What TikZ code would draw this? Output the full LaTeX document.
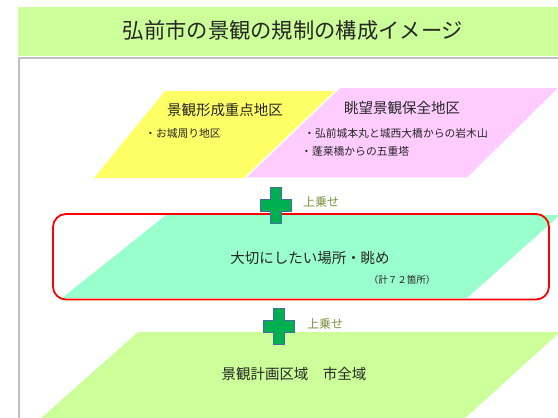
\documentclass[tikz,border=0pt]{standalone}
\usepackage{fontspec}
\setmainfont{Noto Sans CJK JP}
\definecolor{titlegreen}{HTML}{CCFF99}
\definecolor{yellowarea}{HTML}{FFFF66}
\definecolor{pinkarea}{HTML}{FFCCFF}
\definecolor{mintarea}{HTML}{99FFCC}
\definecolor{limearea}{HTML}{CCFF99}
\definecolor{panelgray}{HTML}{C0C0C0}
\definecolor{plusgreen}{HTML}{00B050}
\definecolor{plusedge}{HTML}{41719C}
\definecolor{addtext}{HTML}{77933C}
\definecolor{redframe}{HTML}{FF0000}
\tikzset{
  fs/.style={font=\fontsize{#1}{#1}\selectfont, inner sep=0pt},
  lbl/.style={fs=14.5, text=black!85},
  small/.style={fs=10.8, text=black!85, anchor=west},
  addlbl/.style={fs=12, text=addtext, anchor=west},
  plusshape/.style={fill=plusgreen, draw=plusedge, line width=0.8pt},
}
\newcommand{\plussign}[2]{%
  \filldraw[plusshape] (#1-5.5,#2-18) -- (#1+5.5,#2-18) -- (#1+5.5,#2-6) -- (#1+15.5,#2-6)
    -- (#1+15.5,#2+6) -- (#1+5.5,#2+6) -- (#1+5.5,#2+18) -- (#1-5.5,#2+18) -- (#1-5.5,#2+6)
    -- (#1-15.5,#2+6) -- (#1-15.5,#2-6) -- (#1-5.5,#2-6) -- cycle;}
\begin{document}
\begin{tikzpicture}[x=1pt,y=-1pt]
\useasboundingbox (0,0) rectangle (558,418);
\clip (0,0) rectangle (558,418);
\fill[white] (0,0) rectangle (558,418);
% title bar
\fill[titlegreen] (18,7) rectangle (558,56);
\node[fs=21.3, text=black!85] (title) at (293,30) {弘前市の景観の規制の構成イメージ};
% panel border
\draw[panelgray, line width=1.6pt] (19.2,418) -- (19.2,58) -- (558,58);
% yellow area
\fill[yellowarea] (94,178) -- (165,91) -- (350,91) -- (262,178) -- cycle;
\node[lbl] (yt) at (225,110) {景観形成重点地区};
\node[small] (y1) at (145,133) {・お城周り地区};
% pink area
\filldraw[fill=pinkarea, draw=white, line width=1.5pt] (245,178) -- (340,87) -- (560,87) -- (468,178) -- cycle;
\node[lbl] (pt) at (402,108) {眺望景観保全地区};
\node[small] (p1) at (304,133) {・弘前城本丸と城西大橋からの岩木山};
\node[small] (p2) at (301,151) {・蓬莱橋からの五重塔};
% mint area
\fill[mintarea] (62,298) -- (166,215) -- (560,215) -- (467,298) -- cycle;
\draw[redframe, line width=1.8pt, rounded corners=13pt] (53,214) rectangle (549,299.5);
\node[lbl] (mt) at (310,258) {大切にしたい場所・眺め};
\node[fs=9.5, text=black!85] (m1) at (402,280) {（計７２箇所）};
% lime area
\fill[limearea] (39,420) -- (138,332) -- (560,332) -- (463,420) -- cycle;
\node[lbl] (lt) at (294,374) {景観計画区域　市全域};
% plus signs
\plussign{276}{205}
\node[addlbl] (a1) at (303,202) {上乗せ};
\plussign{279}{326}
\node[addlbl] (a2) at (307,324) {上乗せ};
\end{tikzpicture}
\end{document}
